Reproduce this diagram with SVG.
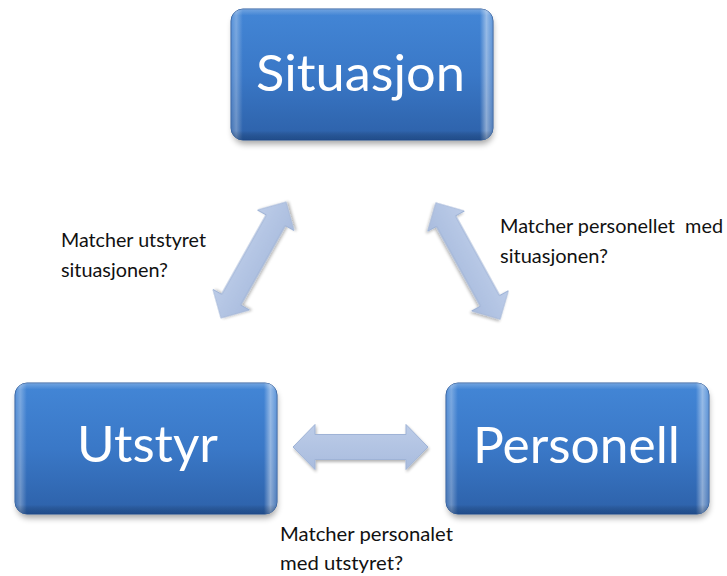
<svg xmlns="http://www.w3.org/2000/svg" width="727" height="576" viewBox="0 0 727 576">
  <defs>
    <linearGradient id="boxFill" x1="0" y1="0" x2="0" y2="1">
      <stop offset="0" stop-color="#4386d6"/>
      <stop offset="0.5" stop-color="#3a78c7"/>
      <stop offset="1" stop-color="#2d61a9"/>
    </linearGradient>
    <linearGradient id="bevelSide" x1="0" y1="0" x2="1" y2="0">
      <stop offset="0" stop-color="#ffffff" stop-opacity="0.10"/>
      <stop offset="0.02" stop-color="#ffffff" stop-opacity="0.30"/>
      <stop offset="0.045" stop-color="#ffffff" stop-opacity="0"/>
      <stop offset="0.95" stop-color="#ffffff" stop-opacity="0"/>
      <stop offset="0.975" stop-color="#ffffff" stop-opacity="0.45"/>
      <stop offset="1" stop-color="#ffffff" stop-opacity="0.15"/>
    </linearGradient>
    <linearGradient id="bevelTop" x1="0" y1="0" x2="0" y2="1">
      <stop offset="0" stop-color="#ffffff" stop-opacity="0.25"/>
      <stop offset="0.05" stop-color="#ffffff" stop-opacity="0"/>
      <stop offset="0.93" stop-color="#000000" stop-opacity="0"/>
      <stop offset="1" stop-color="#0a2a5a" stop-opacity="0.35"/>
    </linearGradient>
    <linearGradient id="arrowFill" x1="0" y1="0" x2="0" y2="1">
      <stop offset="0" stop-color="#bccce8"/>
      <stop offset="1" stop-color="#a9bcde"/>
    </linearGradient>
    <filter id="boxShadow" x="-10%" y="-10%" width="120%" height="130%">
      <feGaussianBlur stdDeviation="3"/>
    </filter>
    <filter id="arrowShadow" x="-20%" y="-20%" width="140%" height="140%">
      <feGaussianBlur in="SourceAlpha" stdDeviation="1.5"/>
      <feOffset dx="1" dy="2" result="b"/>
      <feComponentTransfer><feFuncA type="linear" slope="0.3"/></feComponentTransfer>
      <feMerge><feMergeNode/><feMergeNode in="SourceGraphic"/></feMerge>
    </filter>
    <!-- double-headed block arrow, centred on the origin along x -->
    <polygon id="dblArrow" points="-66.5,0 -45.5,-21 -45.5,-11 45.5,-11 45.5,-21 66.5,0 45.5,21 45.5,11 -45.5,11 -45.5,21"/>
  </defs>
  <style>
    .shadow { fill: #000; opacity: 0.35; filter: url(#boxShadow); }
    .box { fill: url(#boxFill); stroke: #2a5b9e; stroke-width: 1; }
    .side { fill: url(#bevelSide); }
    .edge { fill: url(#bevelTop); }
    .title { font-family: Lato, "Open Sans", sans-serif; font-size: 50px; fill: #ffffff; text-anchor: middle; }
    .arrow { fill: url(#arrowFill); stroke: #9fb3d6; stroke-width: 1; filter: url(#arrowShadow); }
    .label { font-family: Lato, "Open Sans", sans-serif; font-size: 19px; fill: #111111; white-space: pre; }
  </style>

  <rect width="727" height="576" fill="#ffffff"/>

  <g id="connectors">
    <use href="#dblArrow" class="arrow" transform="translate(253.5,260) rotate(-60.7)"/>
    <use href="#dblArrow" class="arrow" transform="translate(468,261) rotate(61.1)"/>
    <polygon class="arrow" points="293,447 315,424.5 315,434.5 406,434.5 406,424.5 428,447 406,469.5 406,459.5 315,459.5 315,469.5"/>
  </g>

  <g id="node-situasjon">
    <rect class="shadow" x="233" y="14" width="260" height="130" rx="12"/>
    <rect class="box" x="231" y="9" width="262" height="131" rx="12"/>
    <rect class="side" x="231" y="9" width="262" height="131" rx="12"/>
    <rect class="edge" x="231" y="9" width="262" height="131" rx="12"/>
    <text class="title" x="360.5" y="91" textLength="209" lengthAdjust="spacingAndGlyphs">Situasjon</text>
  </g>

  <g id="node-utstyr">
    <rect class="shadow" x="17" y="388" width="260" height="130" rx="12"/>
    <rect class="box" x="15" y="383" width="262" height="131" rx="12"/>
    <rect class="side" x="15" y="383" width="262" height="131" rx="12"/>
    <rect class="edge" x="15" y="383" width="262" height="131" rx="12"/>
    <text class="title" x="147.5" y="462" textLength="141" lengthAdjust="spacingAndGlyphs">Utstyr</text>
  </g>

  <g id="node-personell">
    <rect class="shadow" x="448" y="388" width="261" height="130" rx="12"/>
    <rect class="box" x="446" y="383" width="263" height="131" rx="12"/>
    <rect class="side" x="446" y="383" width="263" height="131" rx="12"/>
    <rect class="edge" x="446" y="383" width="263" height="131" rx="12"/>
    <text class="title" x="576.5" y="463" textLength="207" lengthAdjust="spacingAndGlyphs">Personell</text>
  </g>

  <g id="labels">
    <text class="label" x="61" y="247" textLength="145" lengthAdjust="spacingAndGlyphs">Matcher utstyret</text>
    <text class="label" x="61" y="277" textLength="107" lengthAdjust="spacingAndGlyphs">situasjonen?</text>
    <text class="label" x="500" y="233" textLength="223" lengthAdjust="spacingAndGlyphs">Matcher personellet  med</text>
    <text class="label" x="500" y="263" textLength="108" lengthAdjust="spacingAndGlyphs">situasjonen?</text>
    <text class="label" x="280" y="541" textLength="173" lengthAdjust="spacingAndGlyphs">Matcher personalet</text>
    <text class="label" x="280" y="570" textLength="123" lengthAdjust="spacingAndGlyphs">med utstyret?</text>
  </g>
</svg>
